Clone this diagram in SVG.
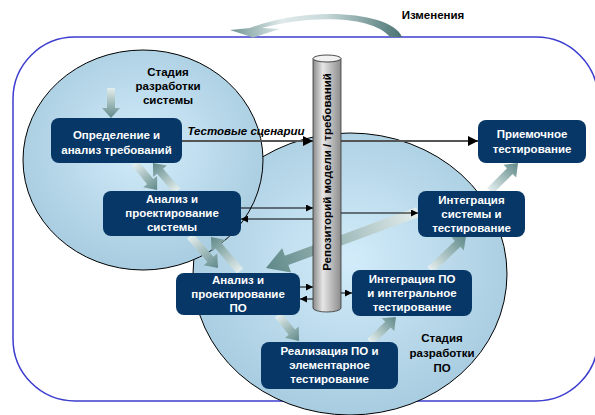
<svg xmlns="http://www.w3.org/2000/svg" width="595" height="415" viewBox="0 0 595 415">
<defs>
<radialGradient id="circ" cx="0.5" cy="0.45" r="0.55">
<stop offset="0" stop-color="#d2ecfa"/>
<stop offset="1" stop-color="#a8cce0"/>
</radialGradient>
<linearGradient id="arr" x1="0" y1="0" x2="1" y2="0">
<stop offset="0" stop-color="#e4eeee"/>
<stop offset="1" stop-color="#5f8888"/>
</linearGradient>
<linearGradient id="arc" x1="0" y1="0" x2="1" y2="0">
<stop offset="0" stop-color="#6f9494"/>
<stop offset="0.3" stop-color="#dfe9e9"/>
<stop offset="0.55" stop-color="#c9dada"/>
<stop offset="1" stop-color="#4b7373"/>
</linearGradient>
<linearGradient id="cyl" x1="0" y1="0" x2="1" y2="0">
<stop offset="0" stop-color="#8a8a8a"/>
<stop offset="0.35" stop-color="#e6e6e6"/>
<stop offset="1" stop-color="#8c8c8c"/>
</linearGradient>
<marker id="ah" viewBox="0 0 10 10" refX="10" refY="5" markerWidth="7" markerHeight="7" markerUnits="userSpaceOnUse" orient="auto">
<path d="M0,0 L10,5 L0,10 Z" fill="#000"/>
</marker>
<marker id="ahg" viewBox="0 0 10 10" refX="10" refY="5" markerWidth="5" markerHeight="5" orient="auto">
<path d="M0,0 L10,5 L0,10 Z" fill="#000"/>
</marker>
</defs>
<style>
.node rect{fill:#073767;}
.node text{fill:#fff;font-family:"Liberation Sans",Arial,sans-serif;font-weight:bold;font-size:11.5px;text-anchor:middle;}
.lbl{fill:#000;font-family:"Liberation Sans",Arial,sans-serif;font-weight:bold;font-size:11.5px;text-anchor:middle;}
.thin{stroke:#000;stroke-width:1;fill:none;marker-end:url(#ah);}
.thick{stroke:#555;stroke-width:2;fill:none;marker-end:url(#ahg);}
.ba{fill:url(#arr);}
</style>
<rect x="0" y="0" width="595" height="415" fill="#fff"/>
<rect x="13" y="37" width="585" height="364" rx="62" ry="62" fill="#fff" stroke="#3c3cd0" stroke-width="1.5"/>
<g id="changes-arrow">
<path d="M402 37 C392 12 310 5 250 28 L230 30 L253 37.5 L280 29 L262 28 C310 15 372 15 390 37 Z" fill="url(#arc)"/>
</g>
<text class="lbl" x="433" y="19">Изменения</text>
<g id="stage-po-circle"><ellipse cx="350" cy="274" rx="157" ry="141" fill="url(#circ)" stroke="#000" stroke-width="1"/></g>
<g id="stage-system-circle"><ellipse cx="143" cy="160" rx="120" ry="110" fill="url(#circ)" stroke="#000" stroke-width="1"/></g>
<g id="connectors">
<path class="ba" transform="translate(111,88) rotate(90)" d="M0,-4 L20,-4 L20,-9 L30,0 L20,9 L20,4 L0,4 Z"/>
<path class="ba" transform="translate(135,163) rotate(50.8)" d="M0,-4 L24,-4 L24,-9 L35,0 L24,9 L24,4 L0,4 Z"/>
<path class="ba" transform="translate(177,191) rotate(-130.6)" d="M0,-4 L26,-4 L26,-9 L37,0 L26,9 L26,4 L0,4 Z"/>
<path class="ba" transform="translate(190,236) rotate(48.8)" d="M0,-4 L31,-4 L31,-9 L42.5,0 L31,9 L31,4 L0,4 Z"/>
<path class="ba" transform="translate(240,271) rotate(-130.5)" d="M0,-4 L33,-4 L33,-9 L44.7,0 L33,9 L33,4 L0,4 Z"/>
<path class="ba" transform="translate(278,315) rotate(51.1)" d="M0,-4 L22,-4 L22,-9 L33.4,0 L22,9 L22,4 L0,4 Z"/>
<path class="ba" transform="translate(370,342) rotate(-43.9)" d="M0,-4 L25,-4 L25,-9 L36,0 L25,9 L25,4 L0,4 Z"/>
<path class="ba" transform="translate(430,270) rotate(-43.4)" d="M0,-4 L38,-4 L38,-9 L49.5,0 L38,9 L38,4 L0,4 Z"/>
<path class="ba" transform="translate(490,191) rotate(-45)" d="M0,-4 L28,-4 L28,-9 L39.6,0 L28,9 L28,4 L0,4 Z"/>
<path class="ba" transform="translate(418,212) rotate(159.8)" d="M0,-5 L140,-5 L140,-13 L162,0 L140,13 L140,5 L0,5 Z"/>
<line class="thick" x1="182" y1="141" x2="313" y2="141"/>
<line class="thick" x1="341" y1="141" x2="478" y2="141"/>
<line class="thin" x1="241" y1="208" x2="313" y2="208"/>
<line class="thin" x1="313" y1="219" x2="241" y2="219"/>
<line class="thin" x1="341" y1="213" x2="418" y2="213"/>
<line class="thin" x1="300" y1="287" x2="313" y2="287"/>
<line class="thin" x1="313" y1="299" x2="300" y2="299"/>
<line class="thin" x1="341" y1="293" x2="352" y2="293"/>
</g>
<text x="246" y="135" style="font-family:'Liberation Sans',Arial,sans-serif;font-weight:bold;font-style:italic;font-size:11.5px;text-anchor:middle;fill:#000">Тестовые сценарии</text>
<g id="repository">
<path d="M313 58.5 L313 308 A14 4 0 0 0 341 308 L341 58.5 Z" fill="url(#cyl)" stroke="#333" stroke-width="0.8"/>
<ellipse cx="327" cy="58.5" rx="14" ry="3.5" fill="#f2f2f2" stroke="#222" stroke-width="0.8"/>
<text class="lbl" transform="translate(331,172) rotate(-90)">Репозиторий модели / требований</text>
</g>
<text class="lbl" x="168" y="76">Стадия</text>
<text class="lbl" x="168" y="90">разработки</text>
<text class="lbl" x="168" y="104">системы</text>
<text class="lbl" x="442" y="342">Стадия</text>
<text class="lbl" x="442" y="357">разработки</text>
<text class="lbl" x="442" y="372">ПО</text>
<g id="n1" class="node"><rect x="51" y="118" width="131" height="45" rx="8"/><text x="116.5" y="139">Определение и</text><text x="116.5" y="154">анализ требований</text></g>
<g id="n2" class="node"><rect x="103" y="191" width="138" height="45" rx="8"/><text x="172" y="203">Анализ и</text><text x="172" y="217">проектирование</text><text x="172" y="231">системы</text></g>
<g id="n3" class="node"><rect x="176" y="273" width="124" height="42" rx="8"/><text x="238" y="284">Анализ и</text><text x="238" y="298">проектирование</text><text x="238" y="312">ПО</text></g>
<g id="n4" class="node"><rect x="261" y="342" width="137" height="47" rx="8"/><text x="329.5" y="355">Реализация ПО и</text><text x="329.5" y="369">элементарное</text><text x="329.5" y="383">тестирование</text></g>
<g id="n5" class="node"><rect x="352" y="270" width="120" height="46" rx="8"/><text x="412" y="283">Интеграция ПО</text><text x="412" y="297">и интегральное</text><text x="412" y="311">тестирование</text></g>
<g id="n6" class="node"><rect x="418" y="191" width="107" height="46" rx="8"/><text x="471.5" y="204">Интеграция</text><text x="471.5" y="218">системы и</text><text x="471.5" y="232">тестирование</text></g>
<g id="n7" class="node"><rect x="478" y="120" width="108" height="43" rx="8"/><text x="532" y="138">Приемочное</text><text x="532" y="153">тестирование</text></g>
</svg>
